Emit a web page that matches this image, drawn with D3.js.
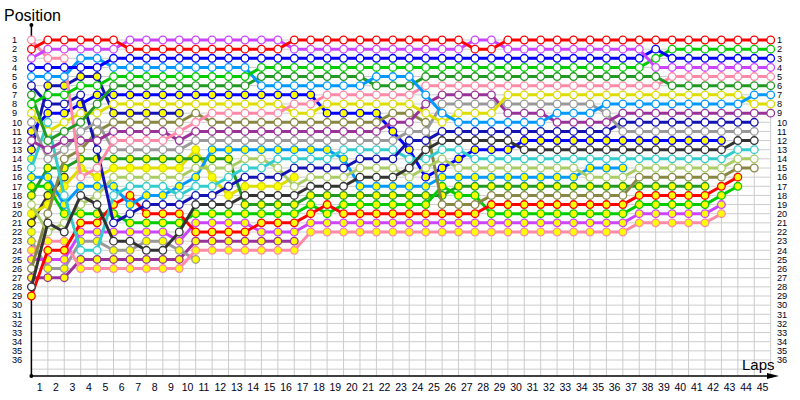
<!DOCTYPE html>
<html>
<head>
<meta charset="utf-8">
<script src="https://cdn.jsdelivr.net/npm/d3@7/dist/d3.min.js"></script>
<style>
  body { margin: 0; background: #fff; }
  text { font-family: "Liberation Sans", Arial, sans-serif; }
</style>
</head>
<body>
<svg id="vis" width="800" height="400"></svg>
<script>
// tick labels
const lapLabels = d3.range(1, 46);
const positionLabels = d3.range(1, 37);

// position of each car at every lap, lap 0 = grid
const redA    = [2,1,1,1,1,1,2,2,2,2,2,2,2,2,2,2,1,1,1,1,1,1,1,1,1,1,1,2,2,1,1,1,1,1,1,1,1,1,1,1,1,1,1,1,1,1];
const violetA = [3,2,2,2,2,2,1,1,1,1,1,1,1,1,1,1,2,2,2,2,2,2,2,2,2,2,2,1,1,2,2,2,2,2,2,2,2,2,4,4,4,4,4,4,4,4];
const blueA   = [4,4,4,4,4,3,3,3,3,3,3,3,3,3,3,3,3,3,3,3,3,3,3,3,3,3,3,3,3,3,3,3,3,3,3,3,3,3,2,3,3,3,3,3,3,3];
const lblueA  = [5,5,5,3,3,4,4,4,4,4,4,4,4,4,6,6,6,6,6,6,6,5,5,5,7,9,10,10,10,10,10,10,9,9,9,8,8,8,8,8,8,8,8,8,7,7];
const greenA  = [8,7,7,6,6,5,5,5,5,5,5,5,5,5,4,4,4,4,4,4,4,4,4,4,4,4,4,4,4,4,4,4,4,4,4,4,4,4,3,2,2,2,2,2,2,2];
const dgreenA = [7,12,11,10,8,6,6,6,6,6,6,6,6,6,5,5,5,5,5,5,5,6,6,6,5,5,5,5,5,5,5,5,5,5,5,5,5,5,5,6,6,6,6,6,6,6];
const pinkA   = [1,3,3,16,15,12,12,12,12,11,10,9,9,9,9,9,8,8,7,7,7,7,7,7,6,6,6,6,6,6,6,6,6,6,6,6,6,6,6,5,5,5,5,5,5,5];
const yellowA = [9,11,10,9,9,8,8,8,8,8,8,8,8,8,8,8,9,9,8,8,8,8,8,8,9,10,9,9,9,7,7,7,7,7,7,7,7,7,7,7,7,7,7,7,8,8];
const purpleA = [12,13,12,12,12,11,11,11,11,12,11,11,11,11,11,11,11,11,11,11,11,11,10,10,8,7,7,7,7,9,9,9,10,10,10,10,9,9,9,9,9,9,9,9,9,9];
const grayA   = [10,14,13,11,10,13,13,13,13,13,12,12,12,12,12,12,12,12,12,12,12,12,12,11,11,8,8,8,8,8,8,8,8,8,8,9,11,11,11,11,11,11,11,11,11];
const navyA   = [6,8,8,7,13,21,20,19,19,19,18,18,17,16,16,16,15,15,15,15,14,14,14,12,12,11,11,11,11,11,11,11,11,11,11,11,10,10,10,10,10,10,10,10,10];
const blackA  = [28,21,22,18,19,23,23,24,24,22,19,19,19,18,18,18,18,17,17,17,16,16,16,15,13,12,12,12,12,12,13,13,13,13,13,13,13,13,13,13,13,13,13,12,12];
const cyanA   = [15,10,18,24,24,18,17,17,17,18,17,17,16,15,15,14,14,14,14,13,13,13,13,14,14,13,13,14,14,14,14,14,14,14,14,14,14,14,14,14,14,14,14,13,13];
const lgreenA = [19,22,21,19,18,16,16,16,16,16,15,15,15,14,14,15,17,16,16,16,15,15,15,16,15,14,15,15,15,15,15,15,15,15,16,16,16,15,15,15,15,15,15,14,14];
const oliveA  = [26,20,14,13,11,10,10,10,10,10,9,10,10,10,10,10,10,10,10,10,10,10,9,9,10,19,19,19,18,18,18,18,18,18,18,18,18,16,16,16,16,16,16,15,15];

const redB    = [29,24,24,21,21,19,18,20,20,20,22,22,22,22,21,21,21,20,19,20,20,20,20,20,20,20,20,20,19,19,19,19,19,19,19,19,19,18,18,18,18,18,17,16];
const violetB = [25,25,25,22,22,22,22,22,22,23,21,21,21,21,22,22,22,21,21,21,21,21,21,21,21,21,21,21,21,21,21,21,21,21,21,21,21,20,20,20,20,20,19];
const blueB   = [11,9,9,8,7,7,7,7,7,7,7,7,7,7,7,7,7,7,9,9,9,9,11,13,16,15,14,13,13,13,12,12,12,12,12,12,12,12,12,12,12,12,12];
const lblueB  = [16,16,19,17,17,17,19,18,18,17,16,13,13,13,13,13,13,13,13,14,17,17,17,17,17,16,16,16,16,16,16,16,16,16,15,15,15];
const greenB  = [17,17,20,20,20,20,21,21,21,21,20,20,20,20,20,20,20,19,20,19,19,19,19,19,19,17,18,18,20,20,20,20,20,20,20,20,20,19,19,19,19,19,18,17];
const dgreenB = [18,15,15,14,14,14,14,14,14,14,14,14,14,19,19,19,19,18,18,18,18,18,18,18,18,18,17,17,17,17,17,17,17,17,17,17,17,17,17,17,17,17];
const pinkB   = [24,23,23,26,26,26,26,26,26,26,24,24,24,24,24,24,24,22,22,22,22,22,22,22,22,22,22,22,22,22,22,22,22,22,22,22,22,21,21,21,21,21,20];
const yellowB = [20,19,17,15,16,15,15,15,15,15,13,16,18,17,17,17,16];
const purpleB = [27,27,27,25,25,25,25,25,25,25,23,23,23,23,23,23,23];
const navyB   = [13,6,6,5,5,9,9,9,9,9];
const blackB  = [21,18,16];
const grayB   = [23,26,26,23,23,24,24,23,23,24,25];
const lgreenB = [22];
const cyanB   = [14];

const teamColor = {
  red: "#ff0000", violet: "#cc44ff", blue: "#0000ff", lblue: "#0099ff",
  green: "#00cc00", dgreen: "#229922", pink: "#ff8aa8", yellow: "#dddd00",
  purple: "#993399", gray: "#999999", navy: "#1414b4", black: "#333333",
  cyan: "#33cccc", lgreen: "#aacc66", olive: "#888844"
};

const drivers = [
  ["purple", purpleB, 1], ["gray", grayB, 1], ["lgreen", lgreenB, 1], ["cyan", cyanB, 1],
  ["black", blackB, 1], ["yellow", yellowB, 1], ["navy", navyB, 1],
  ["pink", pinkB, 1], ["violet", violetB, 1], ["dgreen", dgreenB, 1], ["green", greenB, 1],
  ["red", redB, 1], ["lblue", lblueB, 1], ["blue", blueB, 1],
  ["olive", oliveA, 0], ["lgreen", lgreenA, 0], ["cyan", cyanA, 0], ["black", blackA, 0],
  ["navy", navyA, 0], ["gray", grayA, 0], ["purple", purpleA, 0], ["yellow", yellowA, 0],
  ["pink", pinkA, 0], ["dgreen", dgreenA, 0], ["lblue", lblueA, 0], ["green", greenA, 0],
  ["blue", blueA, 0], ["violet", violetA, 0], ["red", redA, 0]
].map(([team, pos, second]) => ({team, second, pts: pos.map((p, i) => ({lap: i, pos: p}))}));

const svg = d3.select("#vis");
const x = d3.scaleLinear().domain([0, 45]).range([31.4, 770.7]);
const y = d3.scaleLinear().domain([1, 36]).range([40, 360]);
const axisY = 376;

// grid
svg.append("g").selectAll("line").data(d3.range(1, 38)).join("line")
  .attr("x1", x(0)).attr("x2", x(45))
  .attr("y1", d => y(d)).attr("y2", d => y(d))
  .attr("stroke", "#cccccc").attr("stroke-width", 1);
svg.append("g").selectAll("line").data(lapLabels).join("line")
  .attr("x1", d => x(d)).attr("x2", d => x(d))
  .attr("y1", y(1)).attr("y2", axisY)
  .attr("stroke", "#cccccc").attr("stroke-width", 1);

// axes
svg.append("line").attr("x1", x(0)).attr("x2", x(0)).attr("y1", 25).attr("y2", axisY)
  .attr("stroke", "#000").attr("stroke-width", 1.5);
svg.append("line").attr("x1", x(0)).attr("x2", 772).attr("y1", axisY).attr("y2", axisY)
  .attr("stroke", "#000").attr("stroke-width", 1.5);
svg.append("path").attr("d", `M767,${axisY - 3}L779,${axisY}L767,${axisY + 3}Z`).attr("fill", "#000");
svg.append("circle").attr("cx", x(0)).attr("cy", 25).attr("r", 2).attr("fill", "#000");
svg.append("circle").attr("cx", x(0)).attr("cy", axisY).attr("r", 2).attr("fill", "#000");

// labels
svg.append("text").attr("x", 4).attr("y", 21).attr("font-size", 16).attr("fill", "#000").text("Position");
svg.append("text").attr("x", 742).attr("y", 370).attr("font-size", 15).attr("fill", "#000").text("Laps");
svg.append("g").selectAll("text").data(positionLabels).join("text")
  .attr("x", 12).attr("y", d => y(d) + 3.3).attr("font-size", 9.2).attr("fill", "#000022").text(d => d);
svg.append("g").selectAll("text").data(positionLabels).join("text")
  .attr("x", 777).attr("y", d => y(d) + 3.3).attr("font-size", 9.2).attr("fill", "#000022").text(d => d);
svg.append("g").selectAll("text").data(lapLabels).join("text")
  .attr("x", d => x(d - 0.5)).attr("y", 391).attr("text-anchor", "middle")
  .attr("font-size", 10.5).attr("fill", "#000022").text(d => d);

// drivers
const line = d3.line().x(d => x(d.lap)).y(d => y(d.pos));
const g = svg.append("g").selectAll("g").data(drivers).join("g");
g.append("path").attr("d", d => line(d.pts)).attr("fill", "none")
  .attr("stroke", d => teamColor[d.team]).attr("stroke-width", 3).attr("stroke-linejoin", "round");
g.selectAll("circle").data(d => d.pts.map(p => ({...p, team: d.team, second: d.second}))).join("circle")
  .attr("cx", d => x(d.lap)).attr("cy", d => y(d.pos)).attr("r", 3.8)
  .attr("fill", d => d.second ? "#ffff00" : "#ffffff")
  .attr("stroke", d => teamColor[d.team]).attr("stroke-width", 1.3);
</script>
</body>
</html>
